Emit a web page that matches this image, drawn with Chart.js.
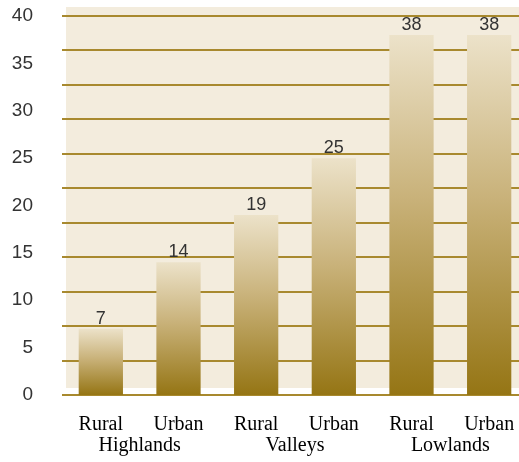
<!DOCTYPE html>
<html>
<head>
<meta charset="utf-8">
<script src="https://cdn.jsdelivr.net/npm/chart.js@4/dist/chart.umd.min.js"></script>
<style>
  html, body { margin: 0; padding: 0; background: #fff; overflow: hidden; }
  #wrap { width: 528px; height: 462px; }
</style>
</head>
<body>
<div id="wrap"><canvas id="chart"></canvas></div>
<script>
// Chart data
const categories = ['Rural', 'Urban', 'Rural', 'Urban', 'Rural', 'Urban'];
const groups = ['Highlands', 'Valleys', 'Lowlands'];
const values = [7, 14, 19, 25, 38, 38];
const yTicks = [0, 5, 10, 15, 20, 25, 30, 35, 40];
const gridLineCount = 11; // the background rules don't follow the y ticks

// Colours
const colors = {
    panel: '#f3ecdd',
    rule: '#a8892e',
    barTop: '#ece2c9',
    barMid: '#c9b27a',
    barBottom: '#957514',
    text: '#333333'
};

// cream panel behind the plot
const panelPlugin = {
    id: 'panel',
    beforeDraw(chart) {
        const a = chart.chartArea;
        const ctx = chart.ctx;
        ctx.save();
        ctx.fillStyle = colors.panel;
        ctx.fillRect(a.left + 4, a.top - 9, chart.width - a.left - 4, a.bottom - a.top + 2);
        ctx.restore();
    }
};

// numbers above the bars
const valueLabels = {
    id: 'valueLabels',
    afterDatasetsDraw(chart) {
        const ctx = chart.ctx;
        const meta = chart.getDatasetMeta(0);
        ctx.save();
        ctx.font = '18px "Liberation Sans", Arial, sans-serif';
        ctx.fillStyle = colors.text;
        ctx.textAlign = 'center';
        ctx.textBaseline = 'bottom';
        meta.data.forEach((bar, i) => {
            ctx.fillText(values[i], bar.x, bar.y - 1);
        });
        ctx.restore();
    }
};

// second row of x labels, one per pair of bars
const groupLabels = {
    id: 'groupLabels',
    afterDraw(chart) {
        const ctx = chart.ctx;
        const x = chart.scales.x;
        ctx.save();
        ctx.font = '20px "Liberation Serif", "Times New Roman", serif';
        ctx.fillStyle = '#000';
        ctx.textAlign = 'center';
        ctx.textBaseline = 'middle';
        groups.forEach((g, i) => {
            const mid = (x.getPixelForValue(i * 2) + x.getPixelForValue(i * 2 + 1)) / 2;
            ctx.fillText(g, mid, 446);
        });
        ctx.restore();
    }
};

function barGradient(context) {
    const chart = context.chart;
    const y = chart.scales.y;
    if (!y || context.raw === undefined) return colors.barMid;
    const top = y.getPixelForValue(context.raw);
    const bottom = y.getPixelForValue(0);
    if (!isFinite(top) || !isFinite(bottom) || top === bottom) return colors.barMid;
    const g = chart.ctx.createLinearGradient(0, top, 0, bottom);
    g.addColorStop(0, colors.barTop);
    g.addColorStop(0.45, colors.barMid);
    g.addColorStop(1, colors.barBottom);
    return g;
}

function noPad(scale) {
    scale.paddingTop = 0;
    scale.paddingBottom = 0;
}

new Chart(document.getElementById('chart').getContext('2d'), {
    type: 'bar',
    data: {
        labels: categories,
        datasets: [{
            data: values,
            backgroundColor: barGradient,
            borderWidth: 0,
            categoryPercentage: 1,
            barPercentage: 0.57
        }]
    },
    options: {
        responsive: true,
        maintainAspectRatio: false,
        animation: false,
        layout: { padding: { top: 16, right: 0, left: 0, bottom: 0 } },
        plugins: {
            legend: { display: false },
            tooltip: { enabled: false }
        },
        scales: {
            x: {
                grid: { display: false },
                border: { display: false },
                ticks: {
                    color: '#000',
                    padding: 10,
                    maxRotation: 0,
                    autoSkip: false,
                    font: { family: '"Liberation Serif", "Times New Roman", serif', size: 20 }
                },
                afterFit(scale) {
                    scale.height = 67;
                    scale.paddingLeft = 0;
                    scale.paddingRight = 0;
                }
            },
            y: {
                min: 0,
                max: 40,
                position: 'left',
                grid: { display: false, drawTicks: false },
                border: { display: false },
                afterBuildTicks(scale) {
                    scale.ticks = yTicks.map(v => ({ value: v }));
                },
                ticks: {
                    color: colors.text,
                    padding: 29,
                    font: { family: '"Liberation Sans", Arial, sans-serif', size: 19 }
                },
                afterFit(scale) {
                    scale.width = 62;
                    noPad(scale);
                }
            },
            rules: {
                type: 'linear',
                min: 0,
                max: 40,
                position: 'left',
                grid: { color: colors.rule, lineWidth: 2, drawTicks: false },
                border: { display: false },
                ticks: { display: false },
                afterBuildTicks(scale) {
                    const t = [];
                    for (let i = 0; i <= gridLineCount; i++) t.push({ value: i * 40 / gridLineCount });
                    scale.ticks = t;
                },
                afterFit(scale) {
                    scale.width = 0;
                    noPad(scale);
                }
            }
        }
    },
    plugins: [panelPlugin, valueLabels, groupLabels]
});
</script>
</body>
</html>
